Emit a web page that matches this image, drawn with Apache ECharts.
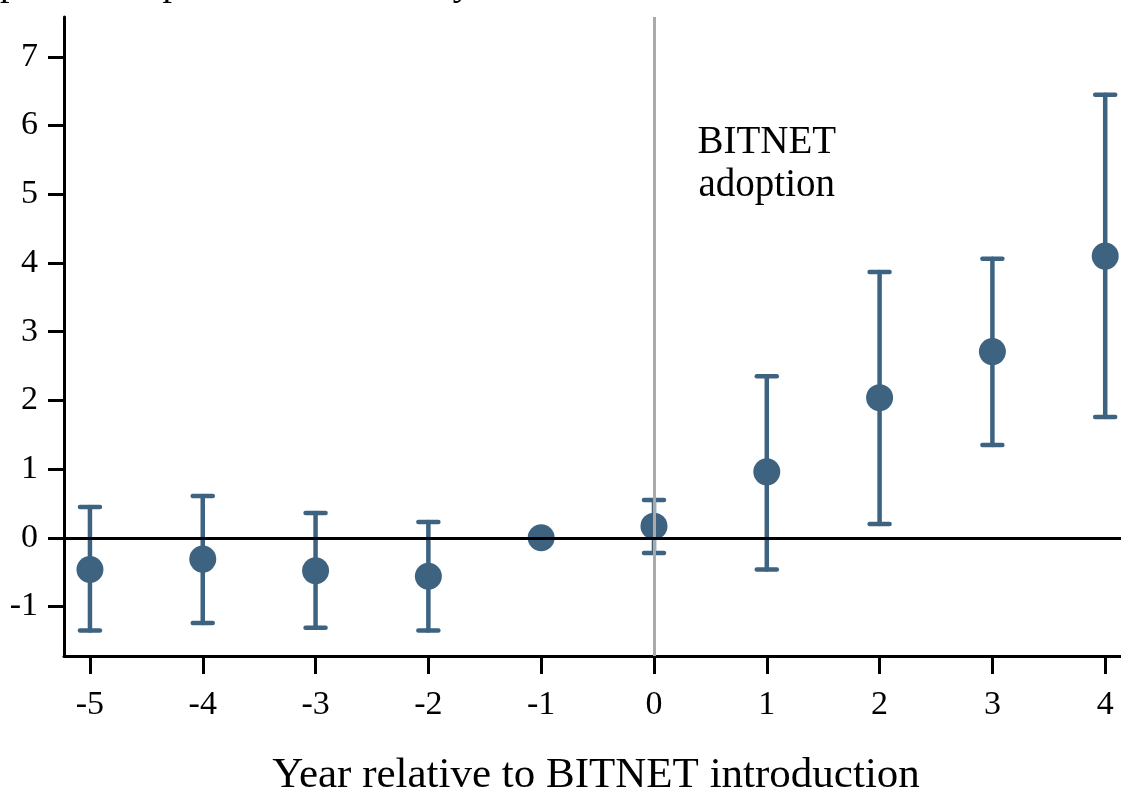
<!DOCTYPE html>
<html><head><meta charset="utf-8">
<script src="https://cdn.jsdelivr.net/npm/echarts@6/dist/echarts.min.js"></script>
<style>html,body{margin:0;padding:0;background:#fff}#c{width:1121px;height:796px}</style>
</head><body><div id="c"></div>
<script>
const years = [-5, -4, -3, -2, -1, 0, 1, 2, 3, 4];
const estimates = [-0.46, -0.31, -0.48, -0.56, 0, 0.17, 0.96, 2.04, 2.71, 4.10];
const ciLow = [-1.35, -1.24, -1.31, -1.35, null, -0.22, -0.46, 0.20, 1.35, 1.76];
const ciHigh = [0.45, 0.61, 0.36, 0.23, null, 0.55, 2.35, 3.87, 4.06, 6.45];
const xTicks = [-5, -4, -3, -2, -1, 0, 1, 2, 3, 4];
const yTicks = [-1, 0, 1, 2, 3, 4, 5, 6, 7];
const eventYear = [0];
const annotX = [1];
const annotY = [5.43];
const annotText = ['BITNET\nadoption'];
const xTitle = 'Year relative to BITNET introduction';
const topTitle = 'percent of publications in the year';

const FONT = '"Liberation Serif", "Times New Roman", serif';
const MARK = '#3e6380';

const chart = echarts.init(document.getElementById('c'), null, {renderer: 'canvas'});

const pointData = years.map((x, i) => [x, estimates[i]]);
const barData = years.map((x, i) => [x, ciLow[i], ciHigh[i]]).filter(d => d[1] !== null && d[2] !== null);

chart.setOption({
  animation: false,
  backgroundColor: '#fff',
  grid: {left: 64, right: 0, top: 17, bottom: 140, containLabel: false, outerBoundsMode: 'none'},
  graphic: [{
    type: 'text', left: 0, top: -34, silent: true,
    style: {text: topTitle, font: '38px ' + FONT, fill: '#000'}
  }, {
    type: 'text', x: 596, y: 754, silent: true,
    style: {text: xTitle, font: '43px ' + FONT, fill: '#000', align: 'center', verticalAlign: 'top'}
  }],
  xAxis: {
    type: 'value', min: -5.23, max: 4.14,
    axisLine: {show: true, onZero: false, lineStyle: {color: '#000', width: 3}},
    axisTick: {show: true, length: 18, lineStyle: {color: '#000', width: 3}, customValues: xTicks},
    axisLabel: {fontFamily: FONT, fontSize: 34, color: '#000', margin: 32, customValues: xTicks},
    splitLine: {show: false}
  },
  yAxis: {
    type: 'value', min: -1.72, max: 7.58,
    axisLine: {show: true, onZero: false, lineStyle: {color: '#000', width: 3}},
    axisTick: {show: true, length: 16, lineStyle: {color: '#000', width: 3}, customValues: yTicks},
    axisLabel: {fontFamily: FONT, fontSize: 34, color: '#000', margin: 26, customValues: yTicks},
    splitLine: {show: false}
  },
  series: [
    {
      type: 'scatter', data: [], z: 1, silent: true,
      markLine: {
        silent: true, symbol: 'none', animation: false,
        label: {show: false},
        data: [
          {xAxis: eventYear[0], lineStyle: {color: '#aaaaaa', width: 3, type: 'solid'}},
          {yAxis: 0, lineStyle: {color: '#000', width: 3, type: 'solid'}}
        ]
      }
    },
    {
      type: 'custom', z: 3, silent: true,
      data: barData,
      encode: {x: 0, y: [1, 2]},
      renderItem: function (params, api) {
        const x = api.value(0), lo = api.value(1), hi = api.value(2);
        const pLo = api.coord([x, lo]);
        const pHi = api.coord([x, hi]);
        const w = 10;
        const st = {stroke: MARK, lineWidth: 4.5, lineCap: 'round'};
        return {
          type: 'group',
          children: [
            {type: 'line', shape: {x1: pLo[0], y1: pLo[1], x2: pHi[0], y2: pHi[1]}, style: st},
            {type: 'line', shape: {x1: pLo[0] - w, y1: pLo[1], x2: pLo[0] + w, y2: pLo[1]}, style: st},
            {type: 'line', shape: {x1: pHi[0] - w, y1: pHi[1], x2: pHi[0] + w, y2: pHi[1]}, style: st}
          ]
        };
      }
    },
    {
      type: 'scatter', z: 4, silent: true,
      data: pointData,
      symbol: 'circle', symbolSize: 27,
      itemStyle: {color: MARK, opacity: 1}
    },
    {
      type: 'scatter', z: 5, silent: true,
      data: annotX.map((x, i) => [x, annotY[i]]),
      symbolSize: 0,
      itemStyle: {opacity: 1},
      label: {
        show: true, position: 'inside',
        formatter: (p) => annotText[p.dataIndex],
        fontFamily: FONT, fontSize: 39, color: '#000', textBorderWidth: 0, lineHeight: 43, align: 'center', verticalAlign: 'middle'
      }
    }
  ]
});
</script>
</body></html>
